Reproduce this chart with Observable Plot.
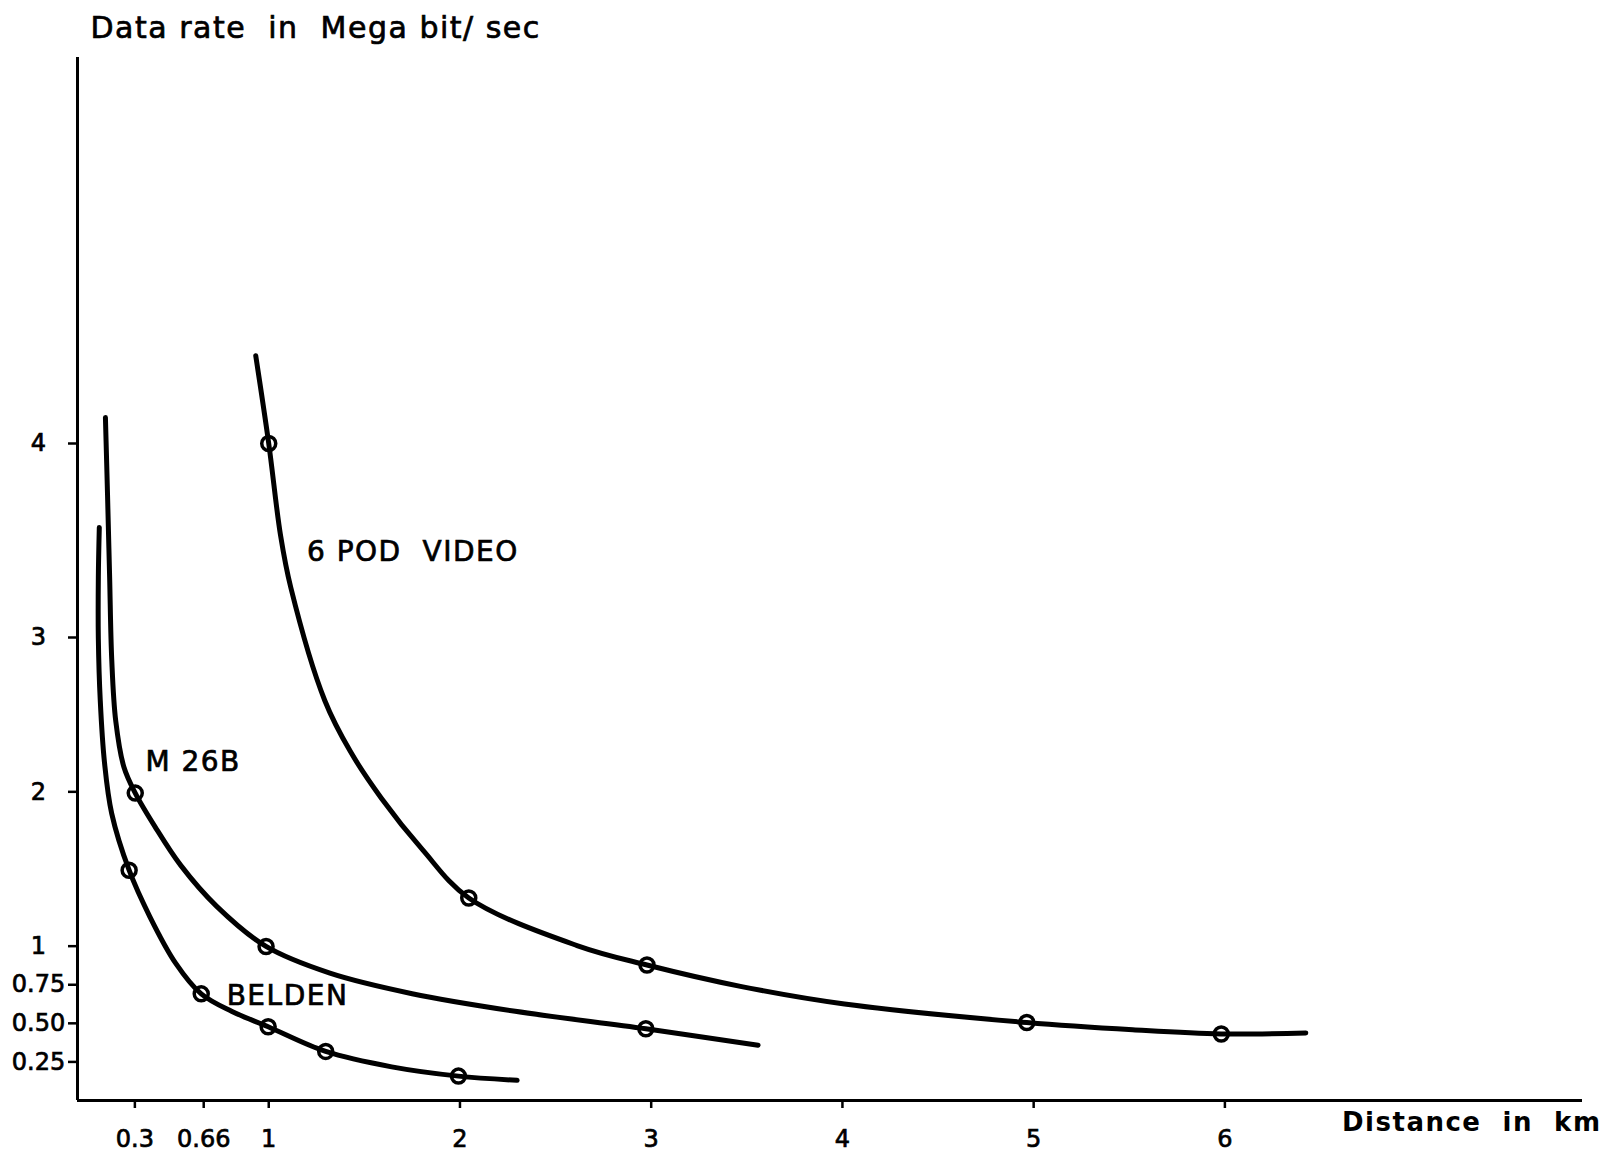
<!DOCTYPE html>
<html>
<head>
<meta charset="utf-8">
<script src="https://cdn.jsdelivr.net/npm/d3@7"></script>
<script src="https://cdn.jsdelivr.net/npm/@observablehq/plot@0.6"></script>
<style>
  html, body { margin: 0; padding: 0; background: #fff; }
</style>
</head>
<body>
<div id="chart"></div>
<script>
// ---- axis ticks ----
const xTicks = [0.3, 0.66, 1, 2, 3, 4, 5, 6];
const xTickLabels = ["0.3", "0.66", "1", "2", "3", "4", "5", "6"];
const yTicks = [0.25, 0.5, 0.75, 1, 2, 3, 4];
const yTickLabels = ["0.25", "0.50", "0.75", "1", "2", "3", "4"];

// ---- series names ----
const seriesNames = ["6 POD VIDEO", "M 26B", "BELDEN"];

// ---- traced curves (distance km, data rate Mbit/s) ----
const podDist = [0.932, 1.0, 1.062, 1.115, 1.293, 1.428, 1.589, 1.804, 2.046, 2.612, 2.978, 3.473, 4.011, 4.964, 5.518, 5.981, 6.423];
const podRate = [4.455, 4.0, 3.525, 3.259, 2.592, 2.259, 1.959, 1.625, 1.312, 1.004, 0.878, 0.738, 0.625, 0.505, 0.458, 0.431, 0.438];

const m26Dist = [0.146, 0.157, 0.168, 0.179, 0.200, 0.243, 0.302, 0.405, 0.539, 0.728, 0.986, 1.320, 1.750, 2.289, 2.972, 3.559];
const m26Rate = [4.135, 3.737, 3.312, 2.859, 2.459, 2.159, 1.992, 1.775, 1.525, 1.258, 0.998, 0.825, 0.692, 0.578, 0.465, 0.358];

const beldenDist = [0.114, 0.109, 0.109, 0.119, 0.141, 0.179, 0.270, 0.378, 0.512, 0.647, 0.808, 0.997, 1.298, 1.643, 1.992, 2.299];
const beldenRate = [3.567, 3.312, 2.992, 2.592, 2.192, 1.859, 1.492, 1.192, 0.892, 0.691, 0.577, 0.478, 0.318, 0.218, 0.158, 0.131];

// ---- measured points (circles) ----
const podPtDist = [1, 2.046, 2.978, 4.964, 5.981];
const podPtRate = [4, 1.312, 0.878, 0.505, 0.431];
const m26PtDist = [0.302, 0.986, 2.972];
const m26PtRate = [1.992, 0.998, 0.465];
const beldenPtDist = [0.270, 0.647, 0.997, 1.298, 1.992];
const beldenPtRate = [1.492, 0.691, 0.478, 0.318, 0.158];

// ---- curve labels (anchor in data space) ----
const labelText = ["6 POD\u00a0 VIDEO", "M 26B", "BELDEN"];
const labelDist = [1.20, 0.355, 0.78];
const labelRate = [3.44, 2.19, 0.674];

const titleText = "Data rate\u00a0 in\u00a0 Mega bit/ sec";
const xAxisText = "Distance\u00a0 in\u00a0 km";

// ---- build tables ----
const toRows = (name, xs, ys) => xs.map((d, i) => ({series: name, d, rate: ys[i]}));
const curves = [
  ...toRows(seriesNames[0], podDist, podRate),
  ...toRows(seriesNames[1], m26Dist, m26Rate),
  ...toRows(seriesNames[2], beldenDist, beldenRate)
];
const points = [
  ...toRows(seriesNames[0], podPtDist, podPtRate),
  ...toRows(seriesNames[1], m26PtDist, m26PtRate),
  ...toRows(seriesNames[2], beldenPtDist, beldenPtRate)
];
const labels = labelText.map((t, i) => ({t, d: labelDist[i], rate: labelRate[i]}));

const chart = Plot.plot({
  width: 1614,
  height: 1155,
  marginLeft: 77,
  marginRight: 32,
  marginTop: 57,
  marginBottom: 55,
  style: "font-family: 'DejaVu Sans', sans-serif; color: #000; background: #fff;",
  x: {type: "linear", domain: [0, 7.87]},
  y: {type: "linear", domain: [0, 3, 4, 6], range: [1100, 637, 443, 57]},
  marks: [
    Plot.ruleX([0], {stroke: "#000", strokeWidth: 3}),
    Plot.ruleY([0], {stroke: "#000", strokeWidth: 3}),
    Plot.axisY({
      ticks: yTicks, anchor: "left", tickSize: 9, tickPadding: 30, textAnchor: "middle",
      tickFormat: (v) => yTickLabels[yTicks.indexOf(v)],
      fontSize: 24, strokeWidth: 2.5, label: null
    }),
    Plot.axisX({
      ticks: xTicks, anchor: "bottom", tickSize: 8, tickPadding: 21,
      tickFormat: (v) => xTickLabels[xTicks.indexOf(v)],
      fontSize: 24, strokeWidth: 2.5, label: null
    }),
    Plot.line(curves, {
      x: "d", y: "rate", z: "series", curve: "catmull-rom",
      stroke: "#000", strokeWidth: 5, strokeLinecap: "round", strokeLinejoin: "round"
    }),
    Plot.dot(points, {
      x: "d", y: "rate", r: 7, stroke: "#000", strokeWidth: 3.5, fill: "none"
    }),
    Plot.text(labels, {
      x: "d", y: "rate", text: "t", textAnchor: "start", lineAnchor: "middle",
      fontSize: 28, fill: "#000"
    }),
    Plot.text([titleText], {
      text: (d) => d, frameAnchor: "top-left", dx: 13, dy: -29,
      textAnchor: "start", lineAnchor: "middle", fontSize: 30, fill: "#000"
    }),
    Plot.text([xAxisText], {
      text: (d) => d, frameAnchor: "bottom-right", dx: 19, dy: 22,
      textAnchor: "end", lineAnchor: "middle", fontSize: 26, fontWeight: "bold", fill: "#000"
    })
  ]
});

// lettering-template look: wider letter spacing on the free text, slightly heavier pen strokes
const svg = d3.select(chart);
svg.selectAll('g[aria-label="text"] text').attr("letter-spacing", "1.5px");
svg.selectAll('g[aria-label="text"] text, g[aria-label="x-axis tick label"] text, g[aria-label="y-axis tick label"] text')
  .filter(function () { return d3.select(this.parentNode).attr("font-weight") !== "bold"; })
  .attr("stroke", "#000").attr("stroke-width", 0.7);

document.getElementById("chart").appendChild(chart);
</script>
</body>
</html>
